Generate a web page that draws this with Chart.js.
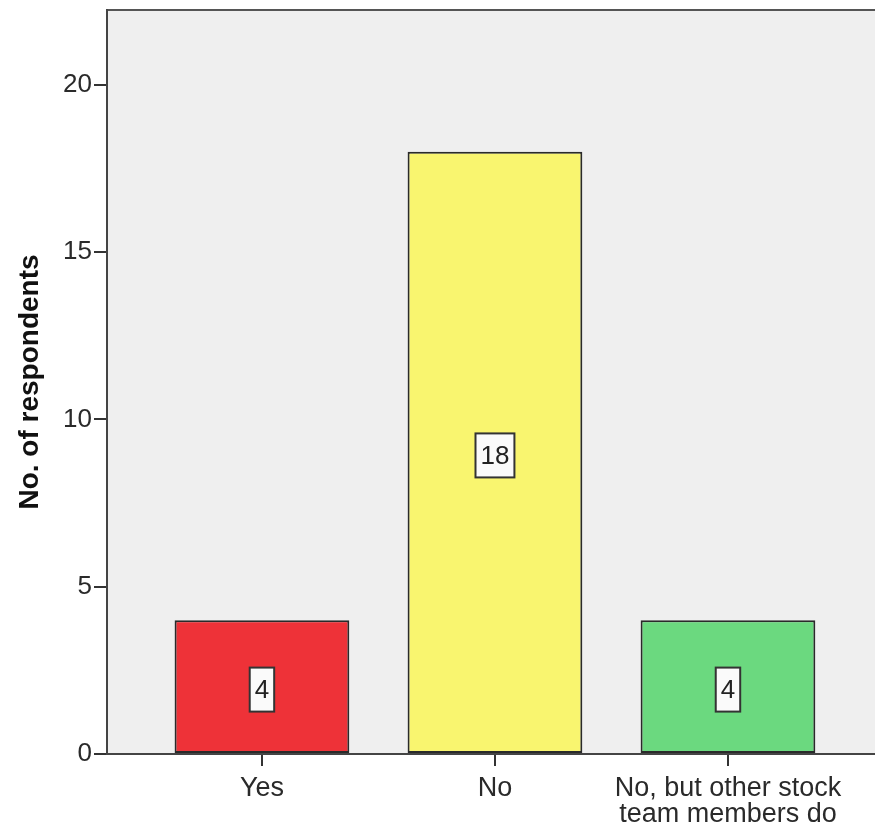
<!DOCTYPE html>
<html>
<head>
<meta charset="utf-8">
<script src="https://cdn.jsdelivr.net/npm/chart.js@4"></script>
<style>
  body { margin: 0; background: #fff; }
</style>
</head>
<body>
<canvas id="chart" width="875" height="829"></canvas>
<script>
const categories = ["Yes", "No", ["No, but other stock", "team members do"]];
const counts = [4, 18, 4];
const barColors = ["#ee3238", "#f9f56f", "#6bd97f"];
const yTicks = [0, 5, 10, 15, 20];

const FONT = "'Liberation Sans', Arial, sans-serif";

// grey plot background and the top frame line
const plotFrame = {
  id: "plotFrame",
  beforeDraw(chart) {
    const { ctx, chartArea } = chart;
    ctx.save();
    ctx.fillStyle = "#efefef";
    ctx.fillRect(chartArea.left, chartArea.top, chartArea.right - chartArea.left, chartArea.bottom - chartArea.top);
    ctx.strokeStyle = "#555";
    ctx.lineWidth = 2;
    ctx.beginPath();
    ctx.moveTo(chartArea.left, chartArea.top);
    ctx.lineTo(chartArea.right, chartArea.top);
    ctx.stroke();
    ctx.restore();
  }
};

// boxed value labels in the middle of each bar
const valueBoxes = {
  id: "valueBoxes",
  afterDatasetsDraw(chart) {
    const { ctx } = chart;
    const meta = chart.getDatasetMeta(0);
    ctx.save();
    ctx.font = "26px " + FONT;
    ctx.textAlign = "center";
    ctx.textBaseline = "middle";
    meta.data.forEach((bar, i) => {
      const text = String(counts[i]);
      const cy = (bar.y + bar.base) / 2 + 3;
      const w = ctx.measureText(text).width + 10;
      const h = 44;
      ctx.fillStyle = "#fafafa";
      ctx.fillRect(bar.x - w / 2, cy - h / 2, w, h);
      ctx.strokeStyle = "#333";
      ctx.lineWidth = 2;
      ctx.strokeRect(bar.x - w / 2, cy - h / 2, w, h);
      ctx.fillStyle = "#222";
      ctx.fillText(text, bar.x, cy + 1);
    });
    ctx.restore();
  }
};

new Chart("chart", {
  type: "bar",
  data: {
    datasets: [{
      data: counts.map((v, i) => ({ x: i, y: v })),
      backgroundColor: barColors,
      borderColor: "#2a2a2a",
      borderWidth: 2,
      borderSkipped: false,
      barPercentage: 0.75,
      categoryPercentage: 1
    }]
  },
  options: {
    responsive: false,
    animation: false,
    layout: { padding: { top: 10, right: 0, left: 0, bottom: 0 } },
    plugins: { legend: { display: false }, tooltip: { enabled: false } },
    scales: {
      x: {
        type: "linear",
        offset: false,
        min: -0.665,
        max: 2.631,
        afterBuildTicks: scale => { scale.ticks = [0, 1, 2].map(v => ({ value: v })); },
        afterFit: scale => { scale.height = 75; },
        ticks: {
          callback: v => categories[v],
          color: "#2a2a2a",
          font: { family: FONT, size: 27, lineHeight: 0.96 },
          padding: 10,
          maxRotation: 0,
          autoSkip: false
        },
        grid: { offset: false, drawOnChartArea: false, tickLength: 12, color: "#333", lineWidth: 2 },
        border: { color: "#444", width: 2 }
      },
      y: {
        min: 0,
        max: 22.24,
        afterBuildTicks: scale => { scale.ticks = yTicks.map(v => ({ value: v })); },
        afterFit: scale => {
          scale.width = 107;
          scale.paddingTop = 0;
          scale.paddingBottom = 0;
        },
        ticks: {
          color: "#2a2a2a",
          font: { family: FONT, size: 26 },
          padding: 2
        },
        grid: { drawOnChartArea: false, tickLength: 13, color: "#333", lineWidth: 2 },
        border: { color: "#444", width: 2 },
        title: {
          display: true,
          text: "No. of respondents",
          color: "#111",
          font: { family: FONT, size: 28, weight: "bold" },
          padding: { top: 13, bottom: 0 }
        }
      }
    }
  },
  plugins: [plotFrame, valueBoxes]
});
</script>
</body>
</html>
